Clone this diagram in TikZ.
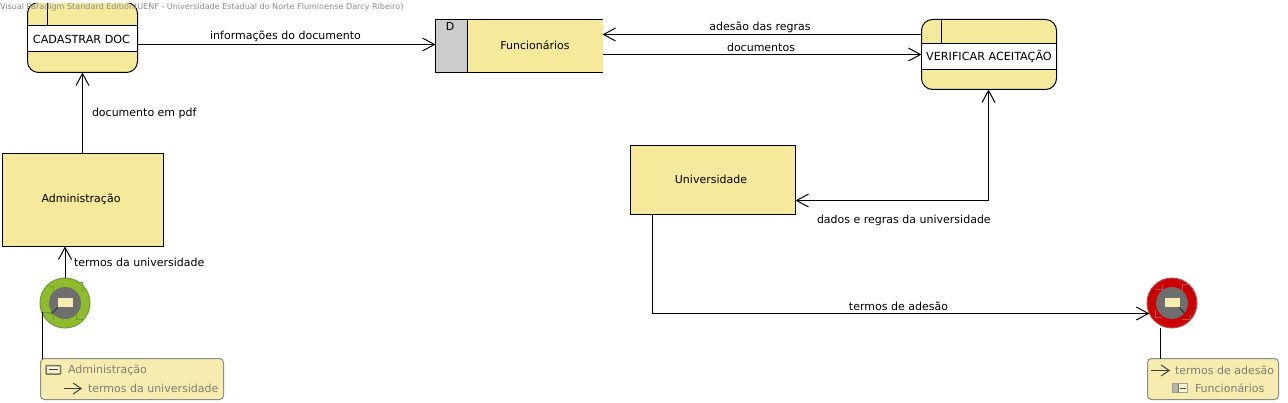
\documentclass[tikz,border=0pt]{standalone}
\usepackage{fontspec}
\setmainfont{DejaVu Sans}
\usetikzlibrary{arrows.meta}
\definecolor{boxfill}{HTML}{F5E99B}
\definecolor{legendfill}{HTML}{F6ECB0}
\definecolor{storegray}{HTML}{CCCCCC}
\definecolor{stampgray}{HTML}{6E6E6E}
\definecolor{stampface}{HTML}{F8EDB0}
\definecolor{ringgreen}{HTML}{8FBC2A}
\definecolor{ringgreenline}{HTML}{6F9A3A}
\definecolor{ringred}{HTML}{CC0000}
\definecolor{ringredline}{HTML}{B85050}
\definecolor{legendtext}{HTML}{7F7F72}
\definecolor{legendline}{HTML}{8E8E80}
\definecolor{iconline}{HTML}{77775A}
\tikzset{
  x=1pt,y=-1pt,
  every node/.style={inner sep=0pt,outer sep=0pt,font=\fontsize{11}{13}\selectfont},
  ln/.style={line width=1pt,draw=black},
  entitybox/.style={ln,fill=boxfill,rectangle},
  processbox/.style={ln,fill=boxfill,rectangle,rounded corners=11pt},
  processband/.style={ln,fill=white,rectangle,font=\fontsize{11.2}{13}\selectfont},
  flow/.style={ln,-{Straight Barb[length=12pt,width=13pt,line width=1pt]}},
  biflow/.style={ln,{Straight Barb[length=12pt,width=13pt,line width=1pt]}-{Straight Barb[length=12pt,width=13pt,line width=1pt]}},
  lbl/.style={text=black},
  legendbox/.style={rectangle,rounded corners=4pt,fill=legendfill,draw=legendline,line width=1pt},
  legendlbl/.style={text=legendtext,anchor=west},
  legendflow/.style={line width=1pt,draw=black!75,-{Straight Barb[length=8pt,width=11pt,line width=1pt]}},
  ringbase/.style={circle,line width=1pt},
  hubdisc/.style={circle,fill=stampgray,minimum size=32pt},
  hubface/.style={rectangle,fill=stampface,minimum width=15pt,minimum height=9pt},
}
\begin{document}
\begin{tikzpicture}
\useasboundingbox (0,0) rectangle (1288,403);
\fill[white] (0,0) rectangle (1288,403);

% entities
\node[entitybox,minimum width=161pt,minimum height=93pt,text depth=0pt] (admin) at (83,200) {};
\node (adminname) at (81,199.5) {Administração};
\node[entitybox,minimum width=165pt,minimum height=69pt] (univ) at (713,180) {};
\node (univname) at (711,179) {Universidade};

% process CADASTRAR DOC
\node[processbox,minimum width=110pt,minimum height=70pt] (cad) at (82.5,37.5) {};
\node[processband,minimum width=110pt,minimum height=26pt,align=center] (cadt) at (82.5,39) {};
\node[font=\fontsize{11.2}{13}\selectfont] (cadname) at (81.5,39) {CADASTRAR DOC};
\draw[ln] (47.5,2.5) -- (47.5,26);
\fill[white] (0,0) rectangle (200,3.5);

% process VERIFICAR
\node[processbox,minimum width=135pt,minimum height=70pt] (ver) at (989,54.5) {};
\node[processband,minimum width=135pt,minimum height=26pt,align=center] (vert) at (989,56.5) {VERIFICAR ACEITAÇÃO};
\draw[ln] (941.5,19.5) -- (941.5,43.5);

% data store
\node[rectangle,fill=boxfill,minimum width=167pt,minimum height=53pt] (store) at (519,46) {};
\fill[storegray] (435.5,19.5) rectangle (467.5,72.5);
\draw[ln] (602.5,19.5) -- (435.5,19.5) -- (435.5,72.5) -- (602.5,72.5);
\draw[ln] (467.5,19.5) -- (467.5,72.5);
\node (storeid) at (450,26) {D};
\node (storename) at (535,45.5) {Funcionários};

% stamps
\node[ringbase,fill=ringgreen,draw=ringgreenline,minimum size=50pt] (start) at (65,303) {};
\draw[ringgreenline,line width=1pt] (50,287) -- (53,287) -- (53,292);
\draw[ringgreenline,line width=1pt] (77,283) -- (82,283) -- (82,292);
\draw[ringgreenline,line width=1pt] (76,315) -- (76,320) -- (83,320);
\draw[ringgreenline,line width=1pt] (43,313) -- (53,313) -- (53,320);
\node[hubdisc] (starthub) at (65,303) {};
\draw[black!80,line width=1pt] (57.5,307.5) -- (51.5,314);
\node[hubface] (startface) at (65,303) {};

\node[ringbase,fill=ringred,draw=ringredline,minimum size=50pt] (stop) at (1172,303) {};
\draw[ringredline,line width=1pt] (1155,290) -- (1162,290) -- (1162,285);
\draw[ringredline,line width=1pt] (1182,292) -- (1182,285) -- (1190,285);
\draw[ringredline,line width=1pt] (1182,320) -- (1190,320) -- (1190,315);
\draw[ringredline,line width=1pt] (1155,310) -- (1155,318) -- (1162,318);
\node[hubdisc] (stophub) at (1172,303) {};
\draw[black!80,line width=1pt] (1179.5,307.5) -- (1185,314);
\node[hubface] (stopface) at (1172,303) {};

% legends
\node[legendbox,minimum width=183pt,minimum height=41pt] (legA) at (132,379) {};
\node[legendbox,minimum width=131pt,minimum height=41pt] (legB) at (1213,379) {};
\draw[ln] (start.center -| 42.5,0) ++(0,9.5) -- (legA.north -| 42.5,0);
\draw[ln] (stop.south -| 1160.5,0) -- (legB.north -| 1160.5,0);

% legend contents
\draw[iconline,fill=legendfill!55!white,line width=1.5pt,rounded corners=.8pt] (46,365.5) rectangle (60.5,374);
\draw[black!75,line width=1pt] (49,369.8) -- (58,369.8);
\node[legendlbl] (legA1) at (68,370) {Administração};
\coordinate (la0) at (64,388.5); \coordinate (la1) at (82,388.5);
\draw[legendflow] (la0) -- (la1);
\node[legendlbl] (legA2) at (88,388.5) {termos da universidade};
\coordinate (lb0) at (1151,370.5); \coordinate (lb1) at (1170,370.5);
\draw[legendflow] (lb0) -- (lb1);
\node[legendlbl] (legB1) at (1175,370) {termos de adesão};
\draw[iconline!70,fill=legendfill!55!white,line width=1pt] (1172.5,383.5) rectangle (1187.5,392.5);
\fill[black!30] (1173,384) rectangle (1178,392);
\draw[iconline,line width=1pt] (1178.5,383.5) -- (1178.5,392.5);
\draw[black!70,line width=1pt] (1180,388) -- (1186,388);
\node[legendlbl] (legB2) at (1195,388.5) {Funcionários};

% connectors
\draw[flow] (admin.north -| 82.5,0) -- (cad.south -| 82.5,0);
\draw[flow] (cadt.east |- 0,44.5) -- (store.west |- 0,44.5);
\draw[flow] (ver.west |- 0,34.5) -- (store.east |- 0,34.5);
\draw[flow] (store.east |- 0,54.5) -- (vert.west |- 0,54.5);
\draw[biflow] (univ.east |- 0,200.5) -- (988.5,200.5) -- (ver.south -| 988.5,0);
\draw[flow] (univ.south -| 652.5,0) -- (652.5,313.5) -- (stop.205 |- 0,313.5);
\draw[flow] (start.north -| 65,0) -- (admin.south -| 65,0);

% labels
\node[lbl] (l1) at (285.5,36.5) {informações do documento};
\node[lbl] (l2) at (760,27.5) {adesão das regras};
\node[lbl] (l3) at (761,47) {documentos};
\node[lbl,anchor=west] (l4) at (92,113) {documento em pdf};
\node[lbl,anchor=west] (l5) at (74,262) {termos da universidade};
\node[lbl,anchor=west] (l6) at (817,220) {dados e regras da universidade};
\node[lbl] (l7) at (898.5,306) {termos de adesão};

% watermark
\node[anchor=west,text=black!45,font=\fontsize{8.05}{10}\selectfont] (wm) at (0,7.5) {Visual Paradigm Standard Edition(UENF - Universidade Estadual do Norte Fluminense Darcy Ribeiro)};
\end{tikzpicture}
\end{document}
